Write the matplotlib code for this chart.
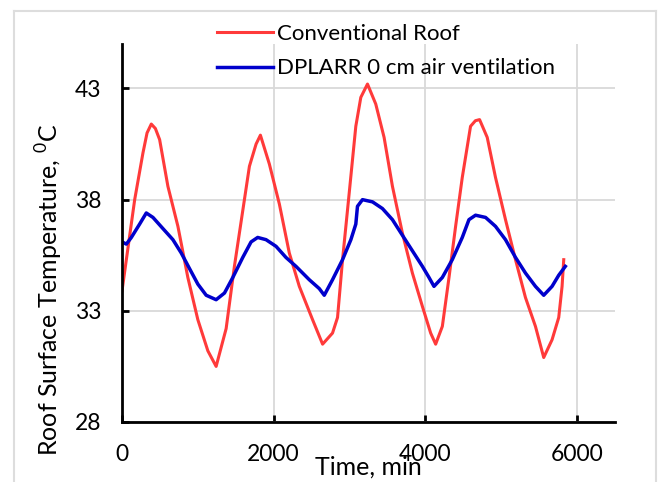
import matplotlib
matplotlib.use('Agg')
import matplotlib.pyplot as plt
from matplotlib.lines import Line2D

plt.rcParams['font.family'] = ['Lato', 'DejaVu Sans']

# Conventional roof (red)
t_conv = [0, 57, 167, 276, 330, 386, 440, 496, 605, 737, 868, 1000, 1132, 1241, 1373, 1482,
          1592, 1680, 1768, 1825, 1943, 2075, 2206, 2338, 2513, 2645, 2776, 2842,
          2908, 2996, 3083, 3149, 3237, 3346, 3456, 3566, 3697, 3829, 3961, 4070,
          4136, 4224, 4312, 4399, 4487, 4596, 4660, 4715, 4816, 4925, 5057, 5189, 5320,
          5452, 5561, 5671, 5759, 5803, 5825]
temp_conv = [33.9, 35.3, 38.0, 40.1, 41.0, 41.4, 41.2, 40.7, 38.6, 36.8, 34.5, 32.6, 31.2, 30.5,
             32.2, 35.0, 37.5, 39.5, 40.5, 40.9, 39.6, 37.8, 35.6, 34.1, 32.6, 31.5,
             32.0, 32.7, 35.3, 38.3, 41.3, 42.6, 43.2, 42.3, 40.8, 38.6, 36.5, 34.7,
             33.2, 32.0, 31.5, 32.3, 34.5, 36.8, 39.0, 41.3, 41.55, 41.6, 40.8, 39.0, 37.1,
             35.3, 33.6, 32.3, 30.9, 31.7, 32.7, 34.1, 35.3]

# DPLARR 0 cm (blue)
t_dplarr = [0, 57, 123, 232, 320, 408, 539, 671, 781, 890, 1000, 1110, 1241, 1351,
            1461, 1592, 1702, 1789, 1899, 2031, 2162, 2294, 2469, 2601, 2667, 2776,
            2908, 3018, 3083, 3105, 3171, 3303, 3434, 3566, 3697, 3829, 3961, 4048,
            4114, 4224, 4355, 4487, 4575, 4662, 4794, 4925, 5057, 5189, 5320, 5452,
            5561, 5671, 5759, 5846]
temp_dplarr = [36.1, 36.0, 36.3, 36.9, 37.4, 37.2, 36.7, 36.2, 35.6, 34.9, 34.2, 33.7,
               33.5, 33.8, 34.5, 35.4, 36.1, 36.3, 36.2, 35.9, 35.4, 35.0, 34.4, 34.0,
               33.7, 34.4, 35.3, 36.2, 36.9, 37.7, 38.0, 37.9, 37.6, 37.1, 36.4, 35.7,
               35.0, 34.5, 34.1, 34.5, 35.3, 36.3, 37.1, 37.3, 37.2, 36.8, 36.2, 35.4,
               34.7, 34.1, 33.7, 34.1, 34.6, 35.0]

xticks = [0, 2000, 4000, 6000]
yticks = [28, 33, 38, 43]

fig = plt.figure(figsize=(6.61, 4.82), dpi=100)
ax = fig.add_axes([0.1846, 0.1245, 0.7457, 0.7842])

ax.plot(t_conv, temp_conv, color='#ff3a3a', lw=2.2, label='Conventional Roof')
ax.plot(t_dplarr, temp_dplarr, color='#0000cc', lw=2.5, label='DPLARR 0 cm air ventilation')

ax.set_xlim(0, 6500)
ax.set_ylim(28, 45)
ax.set_xticks(xticks)
ax.set_yticks(yticks)
ax.grid(True, color='#d9d9d9', lw=1.3)
ax.set_axisbelow(True)

for s in ['top', 'right']:
    ax.spines[s].set_visible(False)
for s in ['left', 'bottom']:
    ax.spines[s].set_linewidth(2.0)
ax.tick_params(direction='in', length=5, width=2, labelsize=16.5, pad=15)
ax.tick_params(axis='x', pad=16)

ax.set_xlabel('Time, min', fontsize=18)
ax.xaxis.set_label_coords(0.5, -0.09)
ax.set_ylabel(r'Roof Surface Temperature, $^{\mathregular{0}}$C', fontsize=18)
ax.yaxis.set_label_coords(-0.115, 0.35)

ax.legend(loc='upper left', bbox_to_anchor=(217 / 661, 1 - 24 / 482),
          bbox_transform=fig.transFigure, frameon=False, fontsize=16,
          handlelength=2.5, handletextpad=0.2, labelspacing=0.65, borderpad=0,
          borderaxespad=0)

# marco gris claro alrededor de la figura
marco = dict(color='#dddddd', lw=1.5, transform=fig.transFigure)
fig.add_artist(Line2D([14 / 661, 14 / 661], [0, 1 - 11 / 482], **marco))
fig.add_artist(Line2D([14 / 661, 656 / 661], [1 - 11 / 482, 1 - 11 / 482], **marco))
fig.add_artist(Line2D([656 / 661, 656 / 661], [0, 1 - 11 / 482], **marco))

fig.savefig('out.png', dpi=100)
